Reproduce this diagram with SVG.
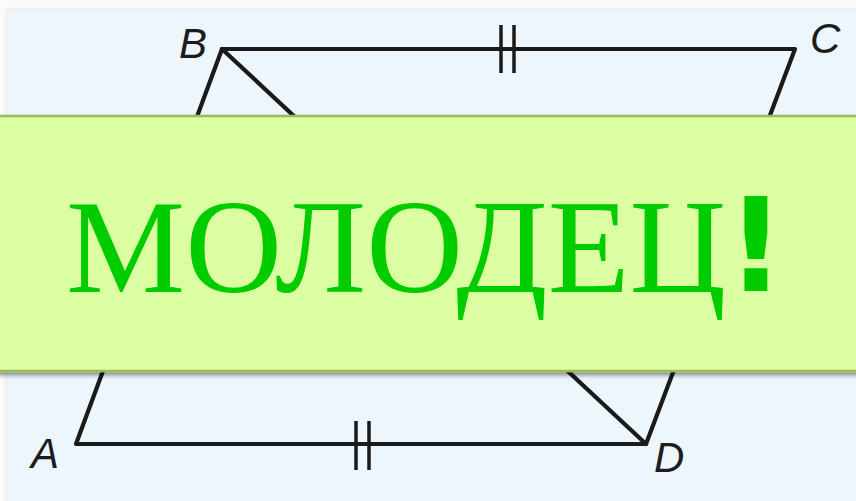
<svg xmlns="http://www.w3.org/2000/svg" width="856" height="501" viewBox="0 0 856 501">
<defs>
<filter id="sh" x="-5%" y="-10%" width="110%" height="130%"><feGaussianBlur in="SourceAlpha" stdDeviation="2"/><feOffset dx="0" dy="3"/><feComponentTransfer><feFuncA type="linear" slope="0.45"/></feComponentTransfer><feMerge><feMergeNode/><feMergeNode in="SourceGraphic"/></feMerge></filter>
<filter id="psh" x="-2%" y="-2%" width="104%" height="104%"><feGaussianBlur in="SourceAlpha" stdDeviation="2"/><feComponentTransfer><feFuncA type="linear" slope="0.15"/></feComponentTransfer><feMerge><feMergeNode/><feMergeNode in="SourceGraphic"/></feMerge></filter>
</defs>
<style>
.ln{stroke:#1a1a1a;stroke-width:4.2;fill:none;stroke-linecap:round;stroke-linejoin:round}
.tk{stroke:#1a1a1a;stroke-width:3.5;fill:none}
.lb{font-family:"Liberation Sans",Arial,sans-serif;font-style:italic;font-size:42px;fill:#1c1c1c}
.big{font-family:"Liberation Serif","Times New Roman",serif;font-size:134px;fill:#00cc00}
.ex{font-family:"DejaVu Sans",sans-serif;font-weight:bold;font-size:130px;fill:#00cc00}
</style>
<rect x="0" y="0" width="856" height="501" fill="#fbfbfb"/>
<rect x="7" y="10" width="860" height="500" fill="#eef6fd" filter="url(#psh)"/>
<g id="connectors">
<polygon class="ln" points="76,444 222,49 795,49 646,444"/>
<line class="ln" x1="222" y1="49" x2="646" y2="444"/>
<line class="tk" x1="501" y1="25" x2="501" y2="73"/>
<line class="tk" x1="514" y1="25" x2="514" y2="73"/>
<line class="tk" x1="356" y1="421" x2="356" y2="470"/>
<line class="tk" x1="369" y1="421" x2="369" y2="470"/>
</g>
<g id="labels">
<text class="lb" x="179" y="58">B</text>
<text class="lb" x="810" y="53">C</text>
<text class="lb" x="31" y="468">A</text>
<text class="lb" x="654" y="472">D</text>
</g>
<g id="banner">
<rect x="-5" y="116" width="866" height="255" fill="#dcfea3" stroke="#9bbb59" stroke-width="2.5" filter="url(#sh)"/>
<text class="big" x="66" y="292">МОЛОДЕЦ<tspan class="ex" dy="-1">!</tspan></text>
</g>
</svg>
